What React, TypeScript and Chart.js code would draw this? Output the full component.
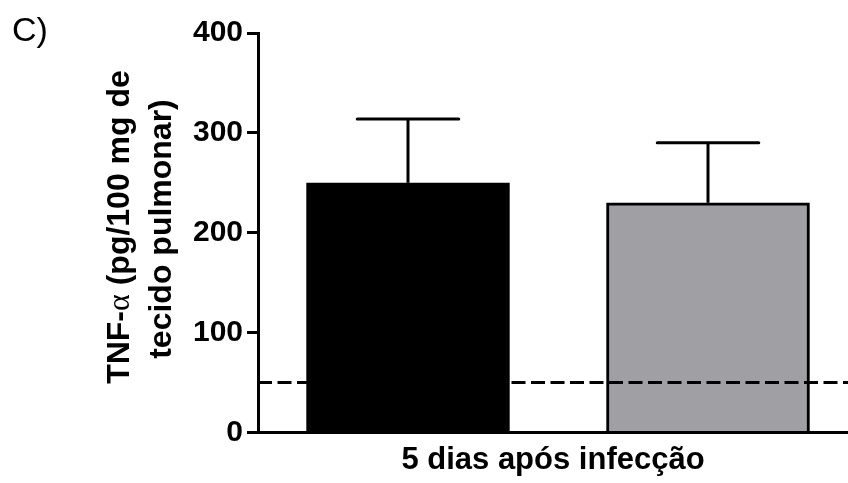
import { useEffect, useRef } from "react";
import { Chart, registerables } from "chart.js";

Chart.register(...registerables);

// Group slots on the horizontal value axis (one unit per group)
const groupSlots = [0.5, 1.5];
// Mean TNF-α levels and upper error (SEM) per group
const means = [250, 230];
const errors = [64, 60];
// Detection limit of the assay
const detectionLimit = 50;
const yTicks = [0, 100, 200, 300, 400];
const barColors = ["#000000", "#a09fa4"];

const panelLabel = "C)";
const xTitle = "5 dias após infecção";
const yTitleLine1 = [
  { text: "TNF-", bold: true },
  { text: "α", bold: false },
  { text: " (pg/100 mg de", bold: true },
];
const yTitleLine2 = "tecido pulmonar)";

const SANS = "'Liberation Sans', Arial, sans-serif";
const SERIF = "'Liberation Serif', 'DejaVu Serif', serif";

const errorBarsPlugin = {
  id: "errorBars",
  afterDatasetsDraw(chart: any) {
    const meta = chart.getDatasetMeta(0);
    const yScale = chart.scales.y;
    const ctx = chart.ctx;
    ctx.save();
    ctx.strokeStyle = "#000";
    ctx.lineWidth = 3;
    meta.data.forEach((bar: any, i: number) => {
      const { x, y, width } = bar.getProps(["x", "y", "width"], true);
      const tip = yScale.getPixelForValue(means[i] + errors[i]);
      ctx.lineCap = "butt";
      ctx.beginPath();
      ctx.moveTo(x, y);
      ctx.lineTo(x, tip);
      ctx.stroke();
      ctx.lineCap = "round";
      ctx.beginPath();
      ctx.moveTo(x - width / 4, tip);
      ctx.lineTo(x + width / 4, tip);
      ctx.stroke();
    });

    // dashed detection-limit line, drawn over the bars
    const { left, right } = chart.chartArea;
    const yLim = yScale.getPixelForValue(detectionLimit);
    ctx.lineCap = "butt";
    ctx.setLineDash([14, 5.5]);
    ctx.beginPath();
    ctx.moveTo(left, yLim);
    ctx.lineTo(right, yLim);
    ctx.stroke();
    ctx.restore();
  },
};

const labelsPlugin = {
  id: "panelText",
  afterDraw(chart: any) {
    const ctx = chart.ctx;
    ctx.save();
    ctx.fillStyle = "#000";
    ctx.textBaseline = "alphabetic";
    ctx.textAlign = "left";

    // panel letter
    ctx.font = `normal 34px ${SANS}`;
    ctx.fillText(panelLabel, 12, 41);

    // rotated two-line y title with a plain-font alpha
    const size = 32;
    const fontFor = (bold: boolean) =>
      bold ? `bold ${size}px ${SANS}` : `normal ${size}px ${SERIF}`;
    const widths = yTitleLine1.map((seg) => {
      ctx.font = fontFor(seg.bold);
      return ctx.measureText(seg.text).width;
    });
    const total1 = widths.reduce((a, b) => a + b, 0);
    ctx.save();
    ctx.translate(129, 227);
    ctx.rotate(-Math.PI / 2);
    let cx = -total1 / 2;
    yTitleLine1.forEach((seg, i) => {
      ctx.font = fontFor(seg.bold);
      ctx.fillText(seg.text, cx, 0);
      cx += widths[i];
    });
    ctx.restore();

    ctx.save();
    ctx.translate(171, 229);
    ctx.rotate(-Math.PI / 2);
    ctx.font = fontFor(true);
    ctx.textAlign = "center";
    ctx.fillText(yTitleLine2, 0, 0);
    ctx.restore();

    ctx.restore();
  },
};

export default function App() {
  const canvasRef = useRef<HTMLCanvasElement | null>(null);

  useEffect(() => {
    const canvas = canvasRef.current;
    if (!canvas) return;
    const chart = new Chart(canvas, {
      type: "bar",
      data: {
        datasets: [
          {
            data: groupSlots.map((x, i) => ({ x, y: means[i] })),
            backgroundColor: barColors,
            borderColor: "#000",
            borderWidth: 3,
            barThickness: 203,
          },
        ],
      },
      options: {
        responsive: false,
        animation: false,
        devicePixelRatio: 1,
        layout: { padding: { top: 33, left: 0, right: 0, bottom: 0 } },
        plugins: {
          legend: { display: false },
          tooltip: { enabled: false },
        },
        scales: {
          x: {
            type: "linear",
            offset: false,
            min: 0,
            max: 590 / 300,
            z: 1,
            ticks: { display: false },
            grid: { display: false, drawTicks: false, offset: false },
            border: { display: true, color: "#000", width: 3 },
            title: {
              display: true,
              text: xTitle,
              color: "#000",
              font: { family: SANS, size: 31, weight: "bold", lineHeight: 1.2 },
              padding: { top: 0, bottom: 4 },
            },
            afterFit(scale: any) {
              scale.height = 50.5;
            },
          },
          y: {
            type: "linear",
            min: 0,
            max: 400,
            z: 1,
            afterBuildTicks(scale: any) {
              scale.ticks = yTicks.map((v) => ({ value: v }));
            },
            ticks: {
              color: "#000",
              padding: 4,
              font: { family: SANS, size: 30, weight: "bold" },
            },
            grid: {
              drawOnChartArea: false,
              drawTicks: true,
              tickLength: 11,
              tickWidth: 3,
              lineWidth: 3,
              tickColor: "#000",
              color: "#000",
            },
            border: { display: true, color: "#000", width: 3 },
            afterFit(scale: any) {
              scale.width = 258;
            },
          },
        },
      } as any,
      plugins: [errorBarsPlugin, labelsPlugin],
    });
    return () => chart.destroy();
  }, []);

  return (
    <div
      style={{
        position: "fixed",
        left: 0,
        top: 0,
        width: 848,
        height: 483,
        background: "#fff",
      }}
    >
      <canvas ref={canvasRef} width={848} height={483} style={{ display: "block" }} />
    </div>
  );
}
